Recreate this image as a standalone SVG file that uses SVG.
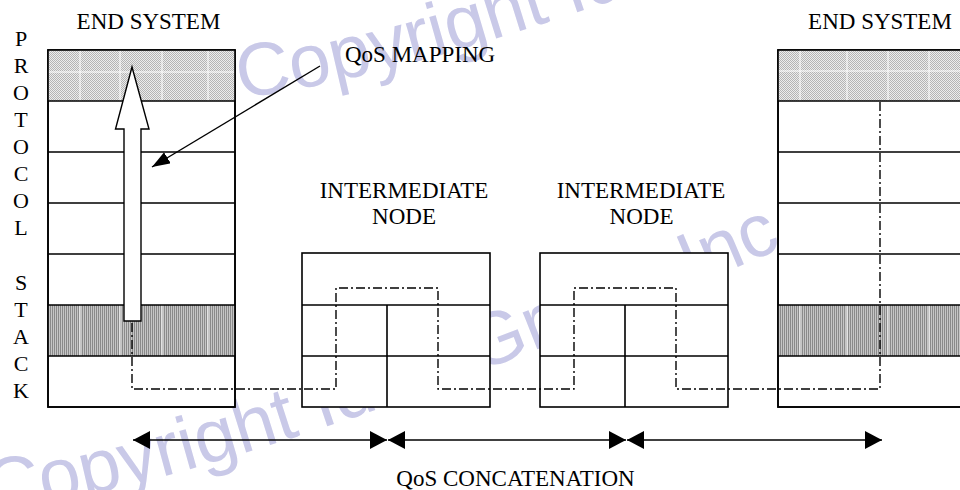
<svg xmlns="http://www.w3.org/2000/svg" width="960" height="490" viewBox="0 0 960 490">
<style>
.lbl{font-family:"Liberation Serif","Times New Roman",serif;font-size:23px;fill:#000}
.vl{font-family:"Liberation Serif","Times New Roman",serif;font-size:22px;fill:#000;text-anchor:middle}
.box{fill:#fff;stroke:#000;stroke-width:1.6}
.ln{stroke:#000;stroke-width:1.6;fill:none}
.grid{stroke:#fff;stroke-width:1;fill:none}
.wm{font-family:"Liberation Sans",Arial,sans-serif;font-size:75px;fill:#c9c9e8}
.dd{stroke:#000;stroke-width:1.4;fill:none;stroke-dasharray:9 3 2 3}
</style>
<defs>
<pattern id="light" width="2" height="2" patternUnits="userSpaceOnUse">
<rect width="2" height="2" fill="#ececec"/>
<rect width="1" height="1" fill="#b4b4b4"/>
<rect x="1" y="1" width="1" height="1" fill="#b4b4b4"/>
</pattern>
<pattern id="dark" width="2" height="2" patternUnits="userSpaceOnUse">
<rect width="2" height="2" fill="#c6c6c6"/>
<rect width="1" height="2" fill="#8a8a8a"/>
</pattern>
<marker id="tri" viewBox="0 0 17 18" refX="17" refY="9" markerWidth="17" markerHeight="18" markerUnits="userSpaceOnUse" orient="auto-start-reverse">
<path d="M0,0 L17,9 L0,18 z" fill="#000"/>
</marker>
<marker id="tri2" viewBox="0 0 18 13" refX="18" refY="6.5" markerWidth="18" markerHeight="13" markerUnits="userSpaceOnUse" orient="auto">
<path d="M0,0 L18,6.5 L0,13 z" fill="#000"/>
</marker>
<path id="wmpath" d="M -10,512 Q 250,480 800,240"/>
</defs>

<g id="watermark">
<text class="wm"><textPath href="#wmpath">Copyright Idea Group Inc.</textPath></text>
<g transform="translate(250,-414)"><text class="wm"><textPath href="#wmpath">Copyright Idea Group Inc.</textPath></text></g>
</g>

<g id="stack-left">
<rect class="box" x="48" y="50" width="187" height="357"/>
<rect x="48" y="50" width="187" height="51" fill="url(#light)"/>
<path class="grid" d="M80,50V101M120,50V101M162,50V101M208,50V101M48,72H235"/>
<rect x="48" y="305" width="187" height="51" fill="url(#dark)"/>
<path class="grid" d="M80,305V356M120,305V356M162,305V356M208,305V356"/>
<rect x="48" y="50" width="187" height="357" fill="none" stroke="#000" stroke-width="1.6"/>
<path class="ln" d="M48,101H235M48,152H235M48,203H235M48,254H235M48,305H235M48,356H235"/>
</g>

<g id="node1">
<rect class="box" x="302" y="253" width="188" height="154"/>
<path class="ln" d="M302,305H490M302,356H490M387,305V407"/>
</g>

<g id="node2">
<rect class="box" x="540" y="253" width="188" height="154"/>
<path class="ln" d="M540,305H728M540,356H728M625,305V407"/>
</g>

<g id="stack-right">
<rect class="box" x="778" y="50" width="192" height="357"/>
<rect x="778" y="50" width="192" height="51" fill="url(#light)"/>
<path class="grid" d="M800,50V101M847,50V101M888,50V101M929,50V101M778,71H970"/>
<rect x="778" y="305" width="192" height="51" fill="url(#dark)"/>
<path class="grid" d="M800,305V356M847,305V356M888,305V356M929,305V356"/>
<rect x="778" y="50" width="192" height="357" fill="none" stroke="#000" stroke-width="1.6"/>
<path class="ln" d="M778,101H970M778,152H970M778,203H970M778,254H970M778,305H970M778,356H970"/>
</g>

<g id="connectors">
<path class="dd" d="M132,323V389H336V288H438V389H574V288H676V389H880V101"/>
<polygon points="124,321 124,129 115.5,129 132,67 149,129 141,129 141,321" fill="#fff" stroke="#000" stroke-width="1.4" stroke-linejoin="miter"/>
<line x1="320" y1="66" x2="152" y2="167" stroke="#000" stroke-width="1.4" marker-end="url(#tri2)"/>
<line x1="133" y1="440" x2="387" y2="440" stroke="#000" stroke-width="1.5" marker-start="url(#tri)" marker-end="url(#tri)"/>
<line x1="388" y1="440" x2="626" y2="440" stroke="#000" stroke-width="1.5" marker-start="url(#tri)" marker-end="url(#tri)"/>
<line x1="627" y1="440" x2="882" y2="440" stroke="#000" stroke-width="1.5" marker-start="url(#tri)" marker-end="url(#tri)"/>
</g>

<g id="labels">
<text class="lbl" x="148.5" y="29" text-anchor="middle">END SYSTEM</text>
<text class="lbl" x="880" y="29" text-anchor="middle">END SYSTEM</text>
<text class="lbl" x="345" y="62">QoS MAPPING</text>
<text class="lbl" x="404" y="198" text-anchor="middle">INTERMEDIATE</text>
<text class="lbl" x="404" y="224" text-anchor="middle">NODE</text>
<text class="lbl" x="641" y="198" text-anchor="middle">INTERMEDIATE</text>
<text class="lbl" x="641.5" y="224" text-anchor="middle">NODE</text>
<text class="lbl" x="515.5" y="486" text-anchor="middle">QoS CONCATENATION</text>
<text class="vl" x="21" y="46">P</text>
<text class="vl" x="21" y="73">R</text>
<text class="vl" x="21" y="100">O</text>
<text class="vl" x="21" y="127">T</text>
<text class="vl" x="21" y="154">O</text>
<text class="vl" x="21" y="181">C</text>
<text class="vl" x="21" y="208">O</text>
<text class="vl" x="21" y="235">L</text>
<text class="vl" x="21" y="290">S</text>
<text class="vl" x="21" y="317">T</text>
<text class="vl" x="21" y="344">A</text>
<text class="vl" x="21" y="371">C</text>
<text class="vl" x="21" y="398">K</text>
</g>
</svg>
